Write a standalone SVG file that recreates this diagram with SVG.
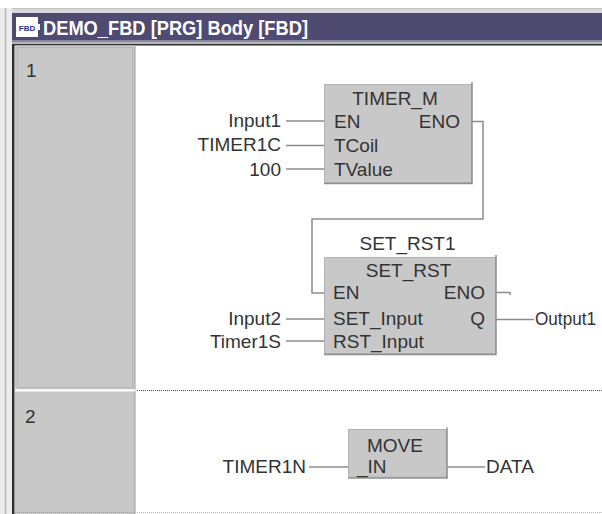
<svg xmlns="http://www.w3.org/2000/svg" width="602" height="514" viewBox="0 0 602 514">
<style>
.lbl{font-family:"Liberation Sans",Arial,sans-serif;font-size:19px;fill:#333333}
.end{text-anchor:end}
.mid{text-anchor:middle}
.wire{fill:none;stroke:#8c8c8c;stroke-width:1.5}
.blk{fill:#c8c8c8;stroke:#b2b2b2;stroke-width:1}
.shd{fill:none;stroke:#8e8e8e;stroke-width:1.5}
</style>
<rect x="0" y="0" width="602" height="514" fill="#ffffff"/>
<!-- window frame -->
<g id="frame">
  <rect x="0" y="0" width="602" height="8" fill="#ffffff"/>
  <rect x="0" y="8" width="602" height="5" fill="#d8d8d8"/>
  <line x1="0" y1="8.5" x2="602" y2="8.5" stroke="#c4c4c4"/>
  <rect x="0" y="8" width="12" height="506" fill="#ececec"/>
  <line x1="5.5" y1="8" x2="5.5" y2="514" stroke="#b4b4b4" stroke-width="1.5"/>
  <rect x="12" y="13" width="590" height="27" fill="#4f4a72"/>
  <rect x="12" y="40" width="590" height="2" fill="#8a86a6"/>
  <rect x="12" y="42" width="590" height="2" fill="#b8b8b8"/>
  <rect x="12" y="44" width="590" height="1.5" fill="#303030"/>
  <rect x="12" y="44" width="2.5" height="470" fill="#303030"/>
  <rect x="16" y="17" width="22" height="20" fill="#ffffff"/>
  <rect x="38" y="24" width="2" height="6" fill="#ffffff"/>
  <text x="27" y="30.5" text-anchor="middle" font-family="Liberation Sans,Arial,sans-serif" font-size="8" font-weight="bold" fill="#3030a0">FBD</text>
  <text x="43" y="35" font-family="Liberation Sans,Arial,sans-serif" font-size="20" font-weight="bold" fill="#ffffff" textLength="265" lengthAdjust="spacingAndGlyphs">DEMO_FBD [PRG] Body [FBD]</text>
</g>
<!-- rung header column -->
<g id="rung1">
  <rect x="15" y="45.5" width="120" height="344" fill="#c8c8c8"/>
  <rect x="17.5" y="47.5" width="115" height="340" fill="none" stroke="#a4a4a4" stroke-dasharray="1 1"/>
  <line x1="135" y1="45" x2="135" y2="390" stroke="#a0a0a0"/>
  <text class="lbl" x="26" y="77" fill="#444">1</text>
</g>
<g id="rung2">
  <rect x="15" y="389.5" width="120" height="1.5" fill="#ffffff"/>
  <rect x="15" y="391.5" width="120" height="122.5" fill="#c8c8c8"/>
  <line x1="135" y1="391" x2="135" y2="514" stroke="#a0a0a0"/>
  <line x1="15" y1="512.5" x2="135" y2="512.5" stroke="#9a9a9a" stroke-dasharray="1 1"/>
  <text class="lbl" x="25" y="423" fill="#444">2</text>
</g>
<g id="separators">
  <line x1="137" y1="390.5" x2="602" y2="390.5" stroke="#505050" stroke-dasharray="1 1"/>
  <line x1="137" y1="512.5" x2="602" y2="512.5" stroke="#b8b8b8" stroke-dasharray="1 1"/>
</g>
<!-- connectors -->
<g id="connectors">
  <path class="wire" d="M286 121 H324"/>
  <path class="wire" d="M286 145.5 H324"/>
  <path class="wire" d="M286 169 H324"/>
  <path class="wire" d="M472 121.5 H483 V219 H312 V293 H324"/>
  <path class="wire" d="M286 319 H324"/>
  <path class="wire" d="M286 341 H324"/>
  <path class="wire" d="M496 292.5 H510 V295"/>
  <path class="wire" d="M496 319.5 H534"/>
  <path class="wire" d="M309 467 H348"/>
  <path class="wire" d="M447 467 H485"/>
</g>
<!-- TIMER_M -->
<g id="timer_m">
  <rect class="blk" x="324.5" y="84.5" width="147" height="98"/>
  <path class="shd" d="M472 82 V183.5 H324"/>
  <text class="lbl mid" x="395" y="105">TIMER_M</text>
  <text class="lbl" x="334" y="128">EN</text>
  <text class="lbl end" x="460" y="128">ENO</text>
  <text class="lbl" x="334" y="152">TCoil</text>
  <text class="lbl" x="334" y="176">TValue</text>
</g>
<g id="timer_inputs">
  <text class="lbl end" x="281" y="127">Input1</text>
  <text class="lbl end" x="281" y="151">TIMER1C</text>
  <text class="lbl end" x="281" y="175.5">100</text>
</g>
<!-- SET_RST -->
<g id="set_rst">
  <text class="lbl mid" x="407.5" y="250">SET_RST1</text>
  <rect class="blk" x="324.5" y="257.5" width="171" height="96"/>
  <path class="shd" d="M496 255 V354.5 H324"/>
  <text class="lbl mid" x="408.5" y="277">SET_RST</text>
  <text class="lbl" x="333" y="299">EN</text>
  <text class="lbl end" x="485" y="299">ENO</text>
  <text class="lbl" x="333" y="325">SET_Input</text>
  <text class="lbl end" x="485" y="325">Q</text>
  <text class="lbl" x="333" y="348">RST_Input</text>
</g>
<g id="setrst_io">
  <text class="lbl end" x="281" y="325">Input2</text>
  <text class="lbl end" x="281" y="347.5">Timer1S</text>
  <text class="lbl" x="535" y="325" textLength="61" lengthAdjust="spacingAndGlyphs">Output1</text>
</g>
<!-- MOVE -->
<g id="move">
  <rect class="blk" x="348.5" y="429.5" width="98" height="47.5"/>
  <path class="shd" d="M447 427.5 V478 H348"/>
  <text class="lbl" x="367" y="452">MOVE</text>
  <text class="lbl" x="357" y="473">_IN</text>
</g>
<g id="move_io">
  <text class="lbl end" x="306" y="472.5">TIMER1N</text>
  <text class="lbl" x="486" y="472.5">DATA</text>
</g>
</svg>
